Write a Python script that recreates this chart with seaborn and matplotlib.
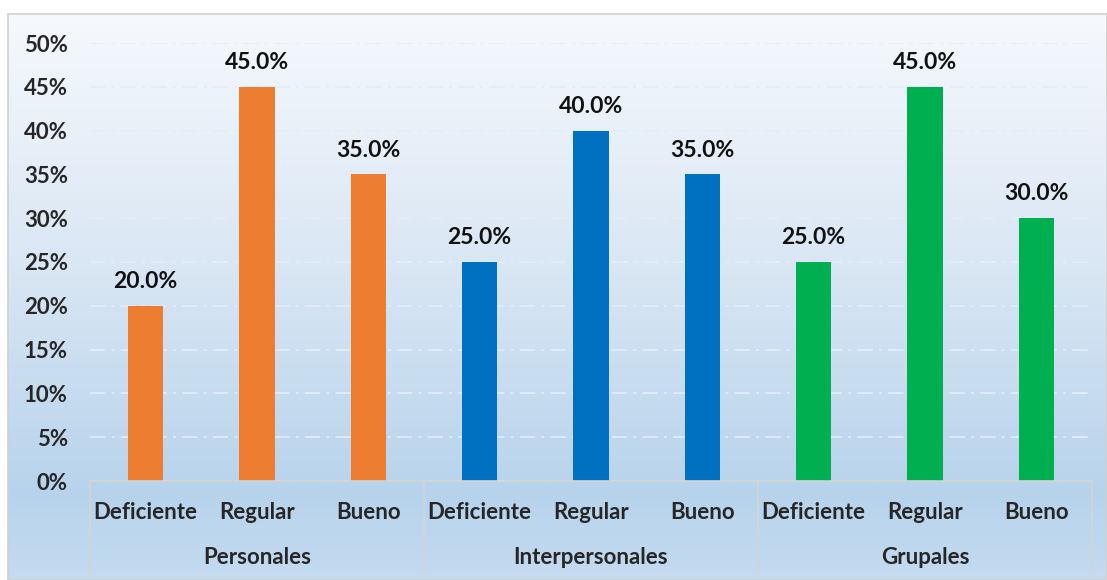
import numpy as np
import pandas as pd
import matplotlib
matplotlib.use("Agg")
import matplotlib.pyplot as plt
from matplotlib.colors import LinearSegmentedColormap
from matplotlib.patches import Rectangle
import seaborn as sns

# datos
grupos = ["Personales", "Interpersonales", "Grupales"]
niveles = ["Deficiente", "Regular", "Bueno"]
personales = [20.0, 45.0, 35.0]
interpersonales = [25.0, 40.0, 35.0]
grupales = [25.0, 45.0, 30.0]
colores = {"Personales": "#ED7D31", "Interpersonales": "#0070C0", "Grupales": "#00B050"}

filas = []
for g, vals in zip(grupos, [personales, interpersonales, grupales]):
    for n, v in zip(niveles, vals):
        filas.append({"grupo": g, "nivel": n, "clave": f"{g}|{n}", "valor": v})
dados = pd.DataFrame(filas)

sns.set_theme(style="white")
plt.rcParams["font.family"] = ["Lato", "DejaVu Sans"]
plt.rcParams["font.weight"] = "bold"

W, H = 1107, 580
fig = plt.figure(figsize=(W / 100, H / 100), dpi=100)
fig.patch.set_facecolor("white")

# fondo degradado
fondo = fig.add_axes([8 / W, 0, 1 - 8 / W, 1 - 14 / H])
cmap = LinearSegmentedColormap.from_list(
    "fondo", [(0, "#f6f9fd"), (0.45, "#d9e6f4"), (0.85, "#b7d3ec"), (1.0, "#c4dbf0")])
grad = np.linspace(0, 1, 256).reshape(-1, 1)
fondo.imshow(grad, aspect="auto", cmap=cmap, extent=[0, 1, 0, 1], origin="upper")
fondo.set_xlim(0, 1)
fondo.set_ylim(0, 1)
fondo.axis("off")
fig.patches.append(Rectangle((8 / W, 0), 1 - 8 / W, 1 - 14 / H, transform=fig.transFigure,
                             fill=False, edgecolor="#d0d0d0", linewidth=1.2))

x0, x1, y0, y1 = 90, 1092, 481, 43
ax = fig.add_axes([x0 / W, 1 - y0 / H, (x1 - x0) / W, (y0 - y1) / H])
ax.patch.set_alpha(0)

sns.barplot(data=dados, x="clave", y="valor", hue="grupo", palette=colores,
            dodge=False, width=0.315, saturation=1, legend=False, linewidth=0, ax=ax)

for cont in ax.containers:
    ax.bar_label(cont, labels=[f"{b.get_height():.1f}%" for b in cont], padding=10,
                 fontsize=16.5, fontweight="bold", color="#111111")

ax.set_xlim(-0.5, 8.5)
ax.set_ylim(0, 50)
ax.set_yticks(np.arange(0, 51, 5))
ax.set_yticklabels([f"{v}%" for v in range(0, 51, 5)], fontsize=16, fontweight="bold")
ax.tick_params(axis="y", length=0, pad=16)
ax.set_xticks(range(9))
ax.set_xticklabels(niveles * 3, fontsize=16, fontweight="bold")
ax.tick_params(axis="x", length=0, pad=15)
ax.set_xlabel("")
ax.set_ylabel("")
ax.yaxis.grid(True, color="#e2edf8", linewidth=1.3, linestyle=(0, (8.5, 3.5, 1.5, 3.5)))
ax.set_axisbelow(True)
for lado in ["top", "right", "left"]:
    ax.spines[lado].set_visible(False)
ax.spines["bottom"].set_color("#d4d4d4")
ax.spines["bottom"].set_linewidth(1.2)

# etiquetas de grupo y separadores
prof = (573 - 481) / (481 - 43)
for i in range(4):
    ax.plot([i * 3 - 0.5] * 2, [0, -prof], transform=ax.get_xaxis_transform(),
            color="#d4d4d4", linewidth=1.2, clip_on=False)
for i, g in enumerate(grupos):
    ax.text(i * 3 + 1, -(557 - 481) / (481 - 43), g, transform=ax.get_xaxis_transform(),
            ha="center", va="center", fontsize=16, fontweight="bold")

fig.savefig("out.png", dpi=100)
